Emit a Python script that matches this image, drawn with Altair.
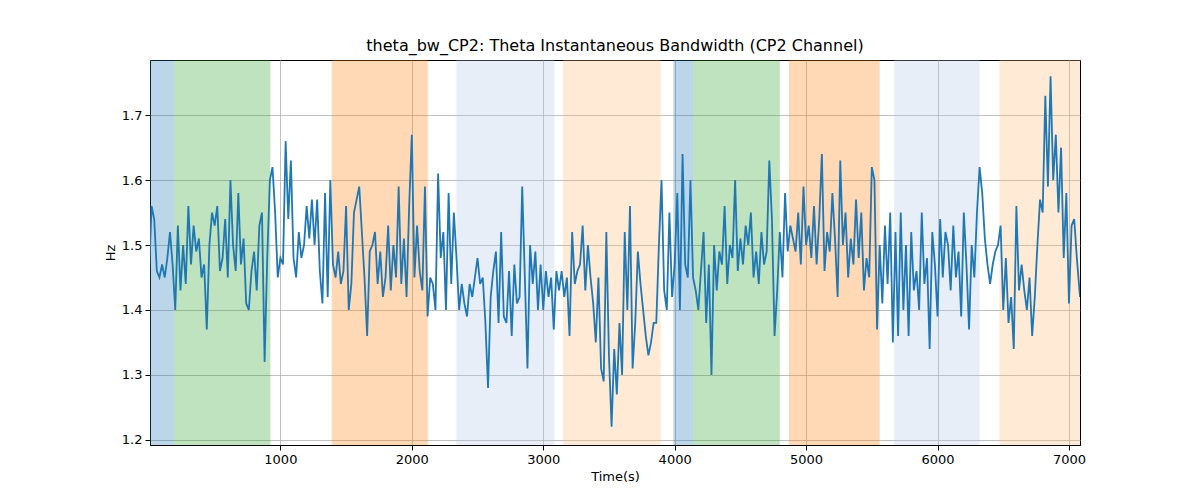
import altair as alt
import pandas as pd

# span regions (start, end, color)
span_start = [8, 190, 1390, 2340, 3150, 3990, 4140, 4870, 5670, 6470]
span_end = [190, 924, 2122, 3084, 3893, 4140, 4800, 5560, 6320, 7084]
span_color = ["#1f77b4", "#2ca02c", "#ff7f0e", "#aec7e8", "#ffbb78",
              "#1f77b4", "#2ca02c", "#ff7f0e", "#aec7e8", "#ffbb78"]

# bandwidth values every 20 s
bw = [
    1.45, 1.56, 1.54, 1.46, 1.45, 1.47, 1.45, 1.48, 1.52, 1.47, 1.40, 1.53, 1.43, 1.50, 1.44, 1.56, 1.47, 1.53, 1.49, 1.51,
    1.45, 1.47, 1.37, 1.50, 1.55, 1.53, 1.56, 1.46, 1.48, 1.54, 1.45, 1.60, 1.50, 1.46, 1.58, 1.47, 1.51, 1.41, 1.40, 1.46,
    1.49, 1.43, 1.53, 1.55, 1.32, 1.48, 1.60, 1.62, 1.55, 1.45, 1.48, 1.47, 1.66, 1.54, 1.63, 1.48, 1.45, 1.52, 1.48, 1.50,
    1.56, 1.51, 1.57, 1.50, 1.57, 1.46, 1.41, 1.58, 1.42, 1.60, 1.47, 1.45, 1.49, 1.44, 1.46, 1.56, 1.40, 1.44, 1.55, 1.57,
    1.59, 1.52, 1.45, 1.36, 1.49, 1.50, 1.52, 1.44, 1.49, 1.42, 1.45, 1.53, 1.43, 1.50, 1.45, 1.59, 1.44, 1.51, 1.42, 1.56,
    1.67, 1.45, 1.53, 1.46, 1.43, 1.59, 1.39, 1.45, 1.44, 1.40, 1.61, 1.48, 1.52, 1.40, 1.58, 1.44, 1.55, 1.48, 1.40, 1.44,
    1.41, 1.39, 1.44, 1.42, 1.45, 1.48, 1.44, 1.45, 1.38, 1.28, 1.42, 1.46, 1.49, 1.38, 1.52, 1.39, 1.38, 1.46, 1.36, 1.47,
    1.41, 1.42, 1.59, 1.45, 1.31, 1.50, 1.44, 1.49, 1.40, 1.47, 1.40, 1.46, 1.42, 1.45, 1.37, 1.46, 1.43, 1.46, 1.42, 1.45,
    1.36, 1.52, 1.44, 1.46, 1.47, 1.53, 1.43, 1.50, 1.45, 1.41, 1.35, 1.45, 1.31, 1.29, 1.52, 1.33, 1.22, 1.34, 1.27, 1.38,
    1.30, 1.52, 1.40, 1.56, 1.31, 1.38, 1.49, 1.44, 1.40, 1.36, 1.33, 1.35, 1.38, 1.38, 1.50, 1.60, 1.43, 1.40, 1.55, 1.42,
    1.47, 1.58, 1.40, 1.64, 1.47, 1.45, 1.60, 1.45, 1.43, 1.40, 1.46, 1.52, 1.38, 1.47, 1.30, 1.50, 1.43, 1.49, 1.47, 1.56,
    1.44, 1.50, 1.48, 1.60, 1.46, 1.51, 1.47, 1.53, 1.50, 1.55, 1.45, 1.49, 1.44, 1.52, 1.47, 1.49, 1.63, 1.54, 1.36, 1.43,
    1.52, 1.45, 1.58, 1.49, 1.53, 1.51, 1.49, 1.55, 1.47, 1.59, 1.50, 1.53, 1.48, 1.56, 1.47, 1.54, 1.64, 1.46, 1.52, 1.49,
    1.58, 1.51, 1.42, 1.63, 1.50, 1.55, 1.45, 1.51, 1.47, 1.57, 1.48, 1.55, 1.43, 1.48, 1.45, 1.62, 1.60, 1.37, 1.50, 1.41,
    1.53, 1.44, 1.55, 1.35, 1.52, 1.36, 1.55, 1.40, 1.50, 1.36, 1.52, 1.43, 1.46, 1.40, 1.55, 1.44, 1.48, 1.34, 1.52, 1.47,
    1.39, 1.54, 1.45, 1.52, 1.50, 1.43, 1.53, 1.45, 1.49, 1.39, 1.55, 1.47, 1.37, 1.50, 1.45, 1.55, 1.62, 1.58, 1.51, 1.47,
    1.44, 1.47, 1.49, 1.50, 1.53, 1.40, 1.48, 1.38, 1.42, 1.34, 1.56, 1.43, 1.47, 1.43, 1.40, 1.45, 1.36, 1.42, 1.50, 1.57,
    1.55, 1.73, 1.59, 1.76, 1.60, 1.67, 1.55, 1.65, 1.48, 1.58, 1.41, 1.53, 1.54, 1.48, 1.42,
]
times = [i * 20 for i in range(len(bw))]
times[-1] = 7084

spans = pd.DataFrame({"start": span_start, "end": span_end, "color": span_color})
series = pd.DataFrame({"t": times, "bw": bw})

xscale = alt.Scale(domain=[8, 7084], nice=False, zero=False)
yscale = alt.Scale(domain=[1.192, 1.785], nice=False, zero=False)

rects = alt.Chart(spans).mark_rect(opacity=0.3).encode(
    x=alt.X("start:Q", scale=xscale),
    x2="end:Q",
    color=alt.Color("color:N", scale=None),
)

line = alt.Chart(series).mark_line(color="#1f77b4", strokeWidth=1.8, clip=True).encode(
    x=alt.X("t:Q", scale=xscale, title="Time(s)",
            axis=alt.Axis(values=[1000, 2000, 3000, 4000, 5000, 6000, 7000], format="d")),
    y=alt.Y("bw:Q", scale=yscale, title="Hz",
            axis=alt.Axis(values=[1.2, 1.3, 1.4, 1.5, 1.6, 1.7], format=".1f")),
)

chart = (
    alt.layer(rects, line)
    .properties(
        width=930, height=385,
        title="theta_bw_CP2: Theta Instantaneous Bandwidth (CP2 Channel)",
        autosize="none",
        padding={"left": 142, "top": 52, "right": 100, "bottom": 45},
    )
    .configure(font="DejaVu Sans")
    .configure_view(stroke="black", strokeWidth=1)
    .configure_axis(
        grid=True, gridColor="#b0b0b0", gridWidth=0.8,
        labelFontSize=13, titleFontSize=13, labelColor="black", titleColor="black",
        titleFontWeight="normal", domainColor="black", tickColor="black",
        tickSize=5, labelPadding=3,
    )
    .configure_title(fontSize=16, fontWeight="normal", offset=6)
)

chart.save("out.html", embed_options={"renderer": "svg", "actions": False})
